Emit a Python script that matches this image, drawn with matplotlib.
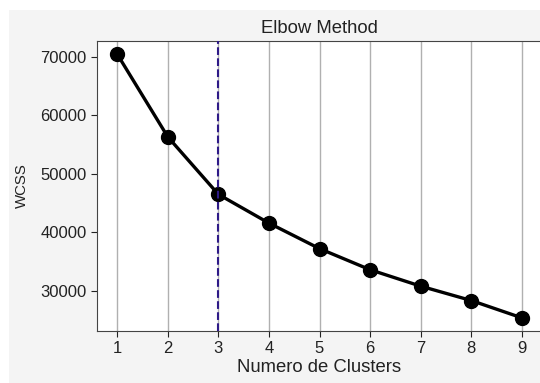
import numpy as np
import matplotlib
matplotlib.use("Agg")
import matplotlib.pyplot as plt
from matplotlib.patches import Rectangle

plt.rcParams['font.family'] = ['Liberation Sans', 'DejaVu Sans']

clusters = [1, 2, 3, 4, 5, 6, 7, 8, 9]
wcss = [70400, 56300, 46500, 41600, 37250, 33650, 30850, 28400, 25450]
best_k = 3


def elbow_plot(k, val, elbow, title="Elbow Method", x_axis="Numero de Clusters", y_axis="WCSS"):
    fig = plt.figure(figsize=(5.40, 3.83), dpi=100)
    fig.patch.set_facecolor('white')
    # light gray panel like the notebook output cell
    fig.patches.append(Rectangle((9 / 540, 0), 1, 1 - 10 / 383, transform=fig.transFigure,
                                 facecolor='#f4f4f4', edgecolor='none', zorder=-10))
    ax = fig.add_axes([97 / 540, 52 / 383, 445 / 540, 290 / 383])
    ax.set_facecolor('white')
    ax.plot(k, val, color='black', lw=2.4, marker='o', markersize=10, zorder=3)
    ax.axvline(elbow, color='#2E1A87', ls='--', lw=1.5, zorder=4)
    ax.grid(axis='x', color='#b0b0b0', lw=1.0)
    ax.set_xticks(k)
    ax.tick_params(labelsize=12, colors='#222222', length=4)
    ax.set_title(title, fontsize=13.3, color='#222222')
    ax.set_xlabel(x_axis, fontsize=13.3, color='#222222', labelpad=2)
    ax.set_ylabel(y_axis, fontsize=10.8, color='#222222', labelpad=8)
    for s in ax.spines.values():
        s.set_color('#444444')
    fig.savefig("out.png", dpi=100, facecolor=fig.get_facecolor())


elbow_plot(clusters, wcss, best_k)
